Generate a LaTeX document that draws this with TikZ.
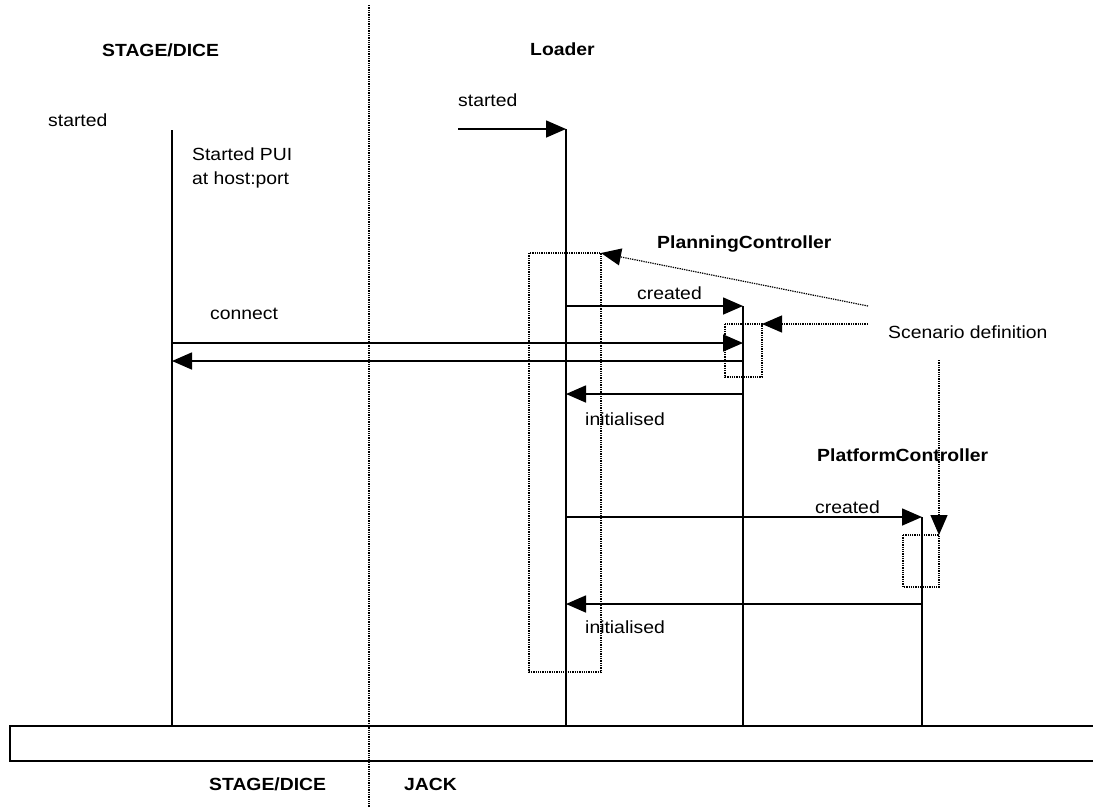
\documentclass[tikz,border=0pt]{standalone}
\usepackage{fontspec}
\setmainfont{Liberation Sans}[FakeStretch=1.1]
\usetikzlibrary{arrows.meta}
\begin{document}
\begin{tikzpicture}[x=1pt,y=-1pt,
  txt/.style={anchor=base west,inner sep=0pt,font=\fontsize{17.6}{22}\selectfont},
  btxt/.style={txt,font=\fontsize{17.6}{22}\selectfont\bfseries},
  life/.style={line width=1.6pt},
  msg/.style={line width=1.6pt,-{Triangle[length=20pt,width=17pt]}},
  dots/.style={line width=1.2pt,dash pattern=on 1.3pt off 1pt},
  dotarrow/.style={dots,-{Triangle[length=20pt,width=17pt]}}]
\useasboundingbox (0,0) rectangle (1093,807);
% divider
\coordinate (divT) at (369,5);
\coordinate (divB) at (369,807);
\draw[dots] (divT) -- (divB);
% labels
\node[btxt] (sdTop) at (102,56) {STAGE/DICE};
\node[btxt] (ldr) at (530,55) {Loader};
\node[txt] (st1) at (48,126) {started};
\node[txt] (st2) at (458,106) {started};
\node[txt] (pui1) at (192,160) {Started PUI};
\node[txt] (pui2) at (192,184) {at host:port};
\node[btxt] (plc) at (657,248) {PlanningController};
\node[txt] (cr1) at (637,299) {created};
\node[txt] (con) at (210,319) {connect};
\node[txt] (scn) at (888,338) {Scenario definition};
\node[txt] (in1) at (585,425) {initialised};
\node[btxt] (pfc) at (817,461) {PlatformController};
\node[txt] (cr2) at (815,513) {created};
\node[txt] (in2) at (585,633) {initialised};
\node[btxt] (sdBot) at (209,790) {STAGE/DICE};
\node[btxt] (jack) at (404,790) {JACK};
% lifeline coordinates
\coordinate (sdA) at (172,130);
\coordinate (sdB) at (172,726);
\coordinate (ldA) at (566,129);
\coordinate (ldB) at (566,726);
\coordinate (pcA) at (743,306);
\coordinate (pcB) at (743,726);
\coordinate (pfA) at (922,517);
\coordinate (pfB) at (922,726);
\draw[life] (sdA) -- (sdB);
\draw[life] (ldA) -- (ldB);
\draw[life] (pcA) -- (pcB);
\draw[life] (pfA) -- (pfB);
% bottom bar
\coordinate (barTR) at (1093,726);
\coordinate (barTL) at (10,726);
\coordinate (barBL) at (10,761);
\coordinate (barBR) at (1093,761);
\draw[life] (barTR) -- (barTL) -- (barBL) -- (barBR);
% messages
\coordinate (stS) at (458,129);
\draw[msg] (stS) -- (ldA);
\coordinate (c1a) at (566,306);
\draw[msg] (c1a) -- (pcA);
\coordinate (cnA) at (172,343);
\coordinate (cnB) at (743,343);
\draw[msg] (cnA) -- (cnB);
\coordinate (rtA) at (743,361);
\coordinate (rtB) at (172,361);
\draw[msg] (rtA) -- (rtB);
\coordinate (i1a) at (743,394);
\coordinate (i1b) at (566,394);
\draw[msg] (i1a) -- (i1b);
\coordinate (c2a) at (566,517);
\draw[msg] (c2a) -- (pfA);
\coordinate (i2a) at (922,604);
\coordinate (i2b) at (566,604);
\draw[msg] (i2a) -- (i2b);
% dotted boxes
\coordinate (bigA) at (529,253);
\coordinate (bigB) at (601,672);
\draw[dots] (bigA) rectangle (bigB);
\coordinate (sb1A) at (725,324);
\coordinate (sb1B) at (762,377);
\draw[dots] (sb1A) rectangle (sb1B);
\coordinate (sb2A) at (903,535);
\coordinate (sb2B) at (939,587);
\draw[dots] (sb2A) rectangle (sb2B);
% dotted arrows from scenario definition
\coordinate (daS) at (868,306);
\coordinate (daT) at (601,253);
\draw[dotarrow] (daS) -- (daT);
\coordinate (dbS) at (868,324);
\coordinate (dbT) at (762,324);
\draw[dotarrow] (dbS) -- (dbT);
\coordinate (dcS) at (939,360);
\coordinate (dcT) at (939,535);
\draw[dotarrow] (dcS) -- (dcT);
\end{tikzpicture}
\end{document}
